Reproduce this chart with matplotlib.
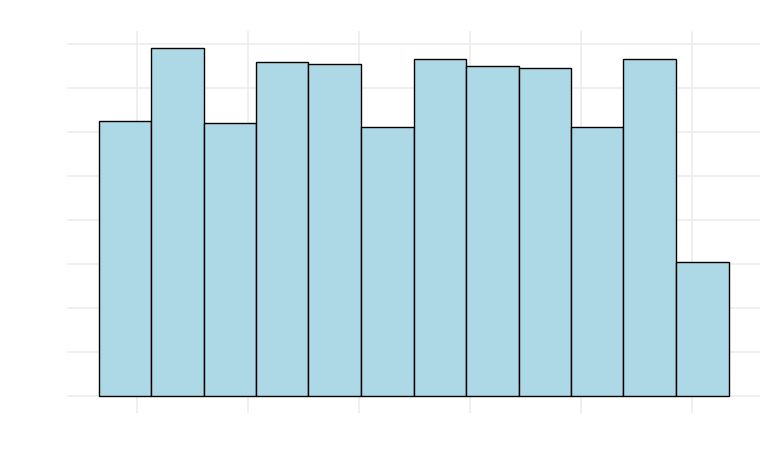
import numpy as np
import matplotlib
matplotlib.use("Agg")
import matplotlib.pyplot as plt

# Histogram data
bin_edges = [-0.348, 0.125, 0.599, 1.072, 1.545, 2.019, 2.492,
             2.965, 3.439, 3.912, 4.385, 4.859, 5.332]
counts = [125, 158, 124, 152, 151, 122, 153, 150, 149, 122, 153, 61]
x_ticks = [0, 1, 2, 3, 4, 5]
y_ticks = [0, 20, 40, 60, 80, 100, 120, 140, 160]

fig = plt.figure(figsize=(7.68, 4.58), dpi=100)
W, H = 768, 458
left, right, top, bottom = 67, 760, 31, 413
ax = fig.add_axes([left / W, (H - bottom) / H, (right - left) / W, (bottom - top) / H])

edges = np.array(bin_edges)
ax.bar(edges[:-1], counts, width=np.diff(edges), align="edge",
       color="#ADD8E6", edgecolor="black", linewidth=1.0, zorder=3)

xr = edges[-1] - edges[0]
ax.set_xlim(edges[0] - 0.05 * xr, edges[-1] + 0.05 * xr)
ymax = max(counts)
ax.set_ylim(-0.05 * ymax, ymax * 1.05)

ax.set_xticks(x_ticks)
ax.set_yticks(y_ticks)
ax.grid(True, color="#EBEBEB", linewidth=1.1, zorder=0)
ax.set_axisbelow(True)
ax.tick_params(length=0, labelbottom=False, labelleft=False)
for s in ax.spines.values():
    s.set_visible(False)

fig.savefig("out.png", dpi=100)
